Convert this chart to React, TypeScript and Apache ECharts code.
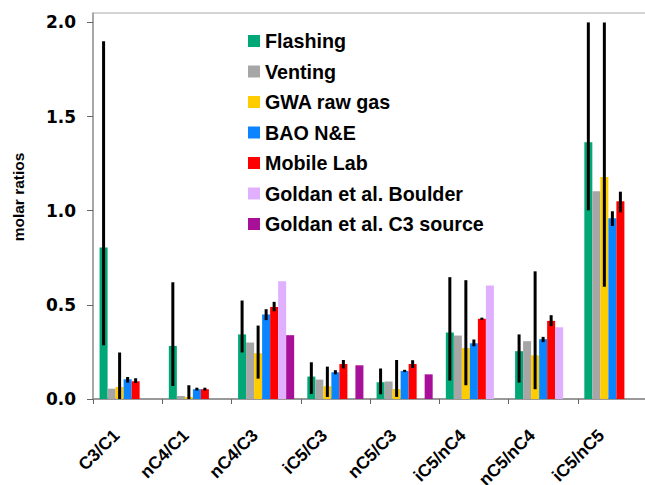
import React, { useEffect, useRef } from "react";
import * as echarts from "echarts";

const categories = ["C3/C1", "nC4/C1", "nC4/C3", "iC5/C3", "nC5/C3", "iC5/nC4", "nC5/nC4", "iC5/nC5"];
const seriesNames = ["Flashing", "Venting", "GWA raw gas", "BAO N&E", "Mobile Lab", "Goldan et al. Boulder", "Goldan et al. C3 source"];
const seriesColors = ["#00A878", "#A6A6A6", "#FFCC00", "#0A84FF", "#FF0000", "#E0B0FF", "#A8109A"];
const yTicks = [0, 0.5, 1, 1.5, 2];
const yTitle = "molar ratios";

const flashing = [0.805, 0.282, 0.343, 0.119, 0.089, 0.353, 0.254, 1.364];
const flashingLow = [0.286, 0.069, 0.247, 0.027, 0.025, 0.098, 0.087, 1.002];
const flashingHigh = [1.9, 0.62, 0.523, 0.195, 0.162, 0.647, 0.343, 2.0];

const venting = [0.055, 0.016, 0.3, 0.103, 0.093, 0.337, 0.307, 1.103];

const gwa = [0.064, 0.011, 0.243, 0.068, 0.053, 0.271, 0.232, 1.179];
const gwaLow = [0.0, 0.0, 0.108, 0.011, 0.011, 0.073, 0.052, 0.596];
const gwaHigh = [0.247, 0.073, 0.39, 0.172, 0.207, 0.631, 0.678, 2.0];

const bao = [0.105, 0.052, 0.449, 0.142, 0.149, 0.296, 0.318, 0.96];
const baoLow = [0.087, 0.045, 0.419, 0.131, 0.143, 0.28, 0.302, 0.919];
const baoHigh = [0.117, 0.06, 0.477, 0.153, 0.155, 0.316, 0.33, 0.997];

const mobile = [0.094, 0.052, 0.489, 0.186, 0.186, 0.426, 0.415, 1.05];
const mobileLow = [0.085, 0.045, 0.466, 0.162, 0.165, 0.42, 0.387, 0.991];
const mobileHigh = [0.11, 0.06, 0.516, 0.207, 0.206, 0.432, 0.445, 1.101];

const goldanBoulder = [null, null, 0.626, null, null, 0.603, 0.381, null];
const goldanC3 = [null, null, 0.339, 0.179, 0.131, null, null, null];

const CAT_GAP = 0.19;
const N_SLOTS = 7;

export default function App() {
  const ref = useRef<HTMLDivElement>(null);
  useEffect(() => {
    if (!ref.current) return;
    const chart = echarts.init(ref.current, null, { renderer: "svg" });
    const values = [flashing, venting, gwa, bao, mobile, goldanBoulder, goldanC3];
    const errSets: [number, number[], number[]][] = [
      [0, flashingLow, flashingHigh],
      [2, gwaLow, gwaHigh],
      [3, baoLow, baoHigh],
      [4, mobileLow, mobileHigh],
    ];
    const errData: number[][] = [];
    errSets.forEach(([slot, lo, hi]) => {
      categories.forEach((_, i) => {
        if (lo[i] != null && hi[i] != null) errData.push([i, slot, lo[i], hi[i]]);
      });
    });
    const barSeries = seriesNames.map((name, k) => ({
      name,
      type: "bar",
      data: values[k].map((v) => (v == null ? "-" : v)),
      itemStyle: { color: seriesColors[k] },
      barGap: "0%",
      barCategoryGap: CAT_GAP * 100 + "%",
      z: 2,
    }));
    const option: any = {
      animation: false,
      grid: {
        left: 93,
        width: 554,
        top: 13,
        bottom: 86,
        containLabel: false,
        outerBoundsMode: "none",
        show: true,
        borderColor: "#aaaaaa",
        borderWidth: 1,
        backgroundColor: "transparent",
      },
      graphic: [
        {
          type: "text",
          x: 18,
          y: 197,
          rotation: Math.PI / 2,
          style: {
            text: yTitle,
            fontFamily: "Liberation Sans",
            fontWeight: "bold",
            fontSize: 15.5,
            fill: "#000",
            align: "center",
            verticalAlign: "middle",
          },
        },
      ],
      legend: {
        orient: "vertical",
        left: 248,
        top: 31,
        padding: 0,
        itemWidth: 12,
        itemHeight: 12,
        itemGap: 10.5,
        icon: "rect",
        data: seriesNames,
        textStyle: {
          fontFamily: "Liberation Sans",
          fontWeight: "bold",
          fontSize: 19.7,
          color: "#000",
          lineHeight: 20,
        },
      },
      xAxis: {
        type: "category",
        data: categories,
        axisLine: { lineStyle: { color: "#999999", width: 2 } },
        axisTick: { show: true, length: 5, lineStyle: { color: "#666" } },
        axisLabel: {
          rotate: 45,
          interval: 0,
          margin: 22,
          padding: [0, 16, 0, 0],
          overflow: "none",
          hideOverlap: false,
          fontFamily: "Liberation Sans",
          fontWeight: "bold",
          fontSize: 17.5,
          color: "#000",
        },
      },
      yAxis: {
        type: "value",
        min: 0,
        max: 2.05,
        interval: 0.5,
        splitLine: { show: false },
        axisLine: { show: true, lineStyle: { color: "#999999", width: 1.5 } },
        axisTick: { show: true, length: 6, inside: false, customValues: yTicks, lineStyle: { color: "#666" } },
        axisLabel: {
          customValues: yTicks,
          margin: 17,
          fontFamily: "DejaVu Sans",
          fontWeight: "bold",
          fontSize: 17,
          color: "#000",
          formatter: (v: number) => v.toFixed(1),
        },
      },
      series: [
        ...barSeries,
        {
          type: "custom",
          name: "errors",
          data: errData,
          encode: { x: 0, y: [2, 3] },
          z: 5,
          renderItem: (params: any, api: any) => {
            const cat = api.value(0);
            const slot = api.value(1);
            const lo = api.value(2);
            const hi = api.value(3);
            const band = api.size([1, 0])[0];
            const total = band * (1 - CAT_GAP);
            const bw = total / N_SLOTS;
            const b = api.coord([cat, lo]);
            const t = api.coord([cat, hi]);
            const x = b[0] - total / 2 + bw * (slot + 0.5);
            return {
              type: "line",
              shape: { x1: x, y1: b[1], x2: x, y2: t[1] },
              style: { stroke: "#000", lineWidth: 3 },
            };
          },
        },
      ],
    };
    chart.setOption(option);
    return () => chart.dispose();
  }, []);
  return (
    <div
      ref={ref}
      style={{ position: "fixed", left: 0, top: 0, width: 645, height: 485, background: "#fff" }}
    />
  );
}
